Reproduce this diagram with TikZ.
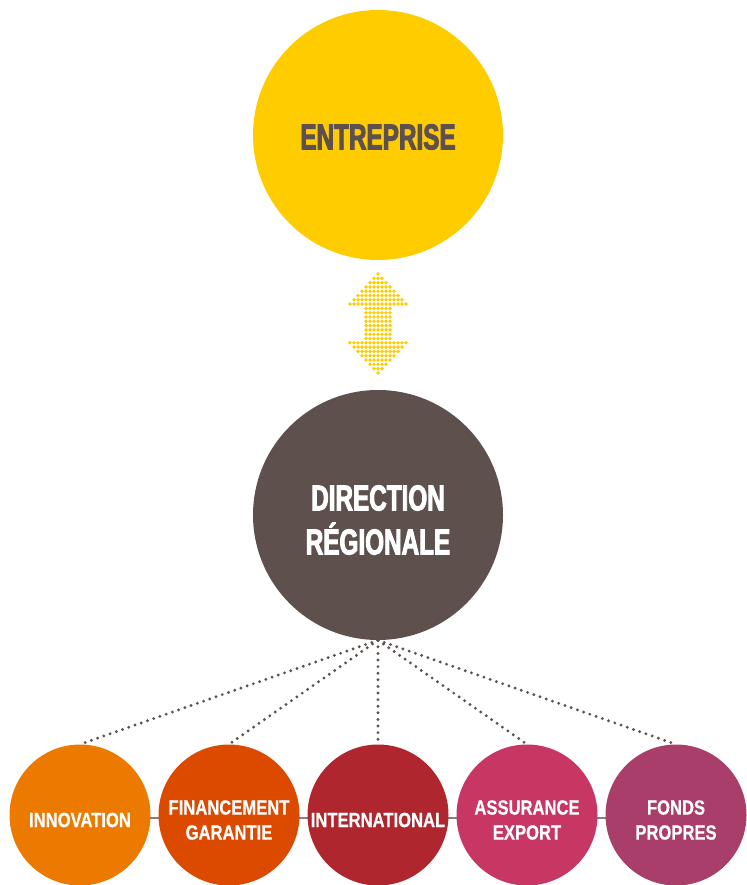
\documentclass[tikz,border=0pt]{standalone}
\usepackage{fontspec}
\usetikzlibrary{backgrounds}
\newfontfamily\headfont[FakeStretch=0.675,FakeBold=2.5]{Liberation Sans}
\newfontfamily\labelfont[FakeStretch=0.81,FakeBold=0.6]{Liberation Sans}
\definecolor{jaune}{HTML}{FFCC00}
\definecolor{brun}{HTML}{5E514D}
\definecolor{orange1}{HTML}{EC7A00}
\definecolor{orange2}{HTML}{DC4A00}
\definecolor{rouge}{HTML}{B0262E}
\definecolor{rose}{HTML}{C83764}
\definecolor{prune}{HTML}{A93E6A}
\definecolor{trait}{HTML}{808080}
\tikzset{
    grandrond/.style={circle, minimum size=250pt, inner sep=0pt},
    grandtexte/.style={align=center, font=\headfont\bfseries\fontsize{36}{44}\selectfont},
    petitrond/.style={circle, minimum size=141pt, inner sep=0pt},
    petittexte/.style={align=center, text=white,
      font=\labelfont\bfseries\fontsize{20.5}{25}\selectfont},
    pointille/.style={draw=brun, line width=3.2pt, line cap=round, dash pattern=on 0pt off 6.6pt},
    lien/.style={draw=trait, line width=1.2pt},
    point/.style={fill=jaune},
  }
\begin{document}
\begin{tikzpicture}[x=1pt,y=-1pt]
				  %cadre
				  \useasboundingbox (0,0) rectangle (746,885);
				  
				  \node[grandrond, fill=jaune] (entreprise) at (378,135) {};
				  \node[grandtexte, text=brun] (tentreprise) at ([yshift=-2pt]entreprise.center) {ENTREPRISE};
				  \node[grandrond, fill=brun] (direction) at (378,515) {};
				  \node[grandtexte, text=white] (tdirection) at ([yshift=-5pt]direction.center) {DIRECTION\\RÉGIONALE};
				  
				  %fleche en points
				  \foreach \i in {0,...,23}{
				    \pgfmathsetmacro\h{4.3*\i}
				    \pgfmathsetmacro\w{\h<=31 ? \h*0.93 : (\h>=68 ? (99-\h)*0.93 : 12)}
				    \foreach \j in {-7,...,7}{
				      \pgfmathtruncatemacro\dedans{abs(\j*4)<=\w+0.6 ? 1 : 0}
				      \ifnum\dedans=1
				        \fill[point] (378+\j*4,274+\h) circle (1.9pt);
				      \fi
				    }
				  }
				  
				  %poles
				  \foreach \nom/\x/\coul/\texte in {innov/80/orange1/INNOVATION,
				      finan/229/orange2/{FINANCEMENT\\GARANTIE},
				      inter/378/rouge/INTERNATIONAL,
				      assur/527/rose/{ASSURANCE\\EXPORT},
				      fonds/676/prune/{FONDS\\PROPRES}}{
				    \node[petitrond, fill=\coul] (\nom) at (\x,815) {};
				    \node[petittexte] (t\nom) at ([yshift=-5pt]\nom.center) {\texte};
				    \draw[pointille] (direction.south) -- (\nom.north);
				  }
				  \begin{scope}[on background layer]
				    \draw[lien] ([yshift=-3pt]innov.center) -- ([yshift=-3pt]fonds.center);
				  \end{scope}
				  \end{tikzpicture}
\end{document}
